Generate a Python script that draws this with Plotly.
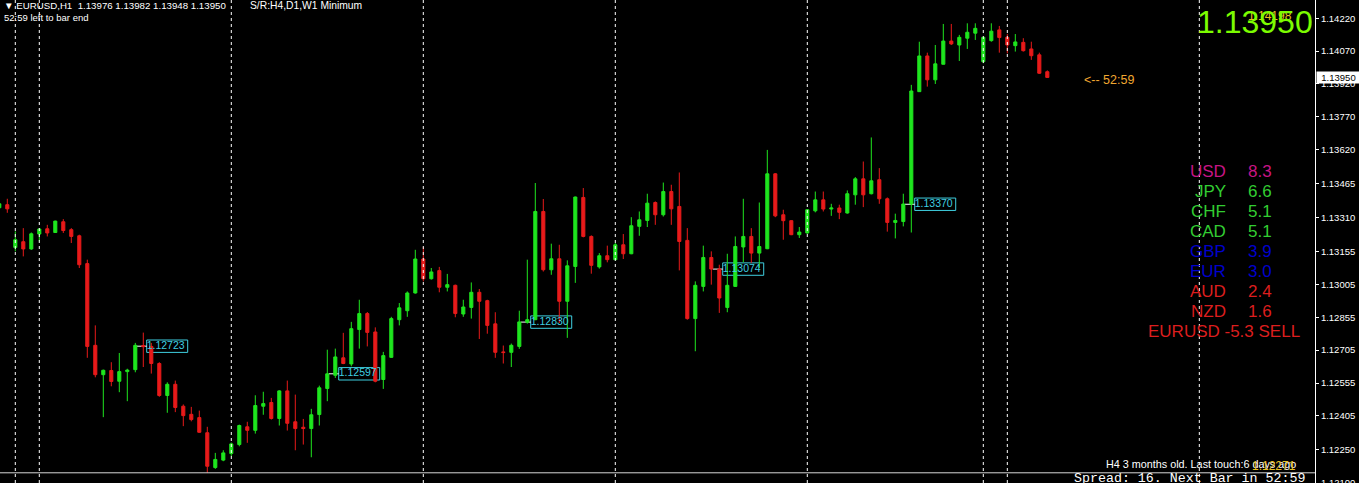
import plotly.graph_objects as go

# ---------------- data (EURUSD H1 candles) ----------------
open_ = [1.13355, 1.13369, 1.13174, 1.13200, 1.13167, 1.13235, 1.13259, 1.13242, 1.13291, 1.13255,
         1.13227, 1.13100, 1.12727, 1.12593, 1.12612, 1.12563, 1.12607, 1.12616, 1.12726, 1.12722,
         1.12644, 1.12498, 1.12549, 1.12449, 1.12412, 1.12397, 1.12328, 1.12169, 1.12203, 1.12233,
         1.12274, 1.12355, 1.12339, 1.12449, 1.12466, 1.12393, 1.12519, 1.12378, 1.12353, 1.12347,
         1.12411, 1.12530, 1.12590, 1.12670, 1.12642, 1.12799, 1.12872, 1.12788, 1.12571, 1.12672,
         1.12844, 1.12885, 1.12966, 1.13121, 1.13031, 1.13068, 1.12992, 1.13001, 1.12870, 1.12900,
         1.12969, 1.12931, 1.12825, 1.12697, 1.12695, 1.12722, 1.12832, 1.12844, 1.13338, 1.13072,
         1.13122, 1.12928, 1.13087, 1.13402, 1.13224, 1.13085, 1.13136, 1.13118, 1.13186, 1.13145,
         1.13270, 1.13297, 1.13379, 1.13323, 1.13429, 1.13361, 1.13206, 1.12849, 1.12996, 1.13128,
         1.13075, 1.12900, 1.12996, 1.13176, 1.13224, 1.13148, 1.13168, 1.13510, 1.13323, 1.13296,
         1.13232, 1.13240, 1.13341, 1.13391, 1.13349, 1.13354, 1.13331, 1.13414, 1.13487, 1.13419,
         1.13483, 1.13396, 1.13288, 1.13292, 1.13372, 1.13885, 1.14048, 1.13939, 1.14010, 1.14116,
         1.14098, 1.14129, 1.14152, 1.14022, 1.14118, 1.14167, 1.14133, 1.14095, 1.14110, 1.14080,
         1.14053, 1.13976]
high = [1.13378, 1.13396, 1.13247, 1.13262, 1.13242, 1.13262, 1.13277, 1.13296, 1.13303, 1.13262,
        1.13232, 1.13118, 1.12818, 1.12616, 1.12650, 1.12692, 1.12620, 1.12738, 1.12785, 1.12738,
        1.12650, 1.12558, 1.12566, 1.12457, 1.12446, 1.12429, 1.12355, 1.12236, 1.12248, 1.12283,
        1.12365, 1.12378, 1.12499, 1.12515, 1.12487, 1.12522, 1.12566, 1.12502, 1.12391, 1.12437,
        1.12543, 1.12707, 1.12712, 1.12784, 1.12834, 1.12935, 1.12879, 1.12809, 1.12697, 1.12857,
        1.12920, 1.12973, 1.13163, 1.13176, 1.13080, 1.13085, 1.13053, 1.13004, 1.12935, 1.13014,
        1.12984, 1.12935, 1.12878, 1.12726, 1.12735, 1.12885, 1.13118, 1.13468, 1.13395, 1.13191,
        1.13186, 1.13115, 1.13406, 1.13445, 1.13229, 1.13148, 1.13182, 1.13194, 1.13235, 1.13312,
        1.13338, 1.13419, 1.13384, 1.13470, 1.13460, 1.13516, 1.13262, 1.13019, 1.13182, 1.13156,
        1.13095, 1.13145, 1.13224, 1.13396, 1.13262, 1.13379, 1.13619, 1.13513, 1.13346, 1.13298,
        1.13267, 1.13349, 1.13429, 1.13429, 1.13373, 1.13369, 1.13434, 1.13495, 1.13566, 1.13676,
        1.13536, 1.13402, 1.13328, 1.13419, 1.13916, 1.14113, 1.14063, 1.14098, 1.14194, 1.14194,
        1.14144, 1.14197, 1.14197, 1.14136, 1.14197, 1.14185, 1.14148, 1.14148, 1.14129, 1.14113,
        1.14063, 1.13982]
low = [1.13350, 1.13332, 1.13156, 1.13133, 1.13163, 1.13201, 1.13224, 1.13242, 1.13240, 1.13194,
       1.13080, 1.12670, 1.12581, 1.12399, 1.12540, 1.12513, 1.12472, 1.12604, 1.12628, 1.12598,
       1.12492, 1.12419, 1.12422, 1.12358, 1.12380, 1.12328, 1.12145, 1.12163, 1.12198, 1.12221,
       1.12266, 1.12282, 1.12324, 1.12410, 1.12388, 1.12361, 1.12338, 1.12248, 1.12274, 1.12216,
       1.12361, 1.12472, 1.12578, 1.12641, 1.12631, 1.12712, 1.12722, 1.12558, 1.12528, 1.12670,
       1.12818, 1.12857, 1.12963, 1.13019, 1.13027, 1.12969, 1.12973, 1.12855, 1.12857, 1.12849,
       1.12756, 1.12780, 1.12670, 1.12644, 1.12628, 1.12711, 1.12826, 1.12842, 1.13064, 1.13049,
       1.12829, 1.12761, 1.13012, 1.13220, 1.13054, 1.13077, 1.13106, 1.13116, 1.13121, 1.13143,
       1.13227, 1.13267, 1.13277, 1.13315, 1.13277, 1.13069, 1.12844, 1.12700, 1.12973, 1.13004,
       1.12875, 1.12878, 1.12994, 1.13106, 1.13103, 1.13080, 1.13166, 1.13312, 1.13209, 1.13230,
       1.13217, 1.13237, 1.13334, 1.13338, 1.13318, 1.13303, 1.13328, 1.13369, 1.13358, 1.13416,
       1.13373, 1.13246, 1.13215, 1.13270, 1.13242, 1.13884, 1.13908, 1.13920, 1.14009, 1.14098,
       1.14025, 1.14080, 1.14121, 1.14015, 1.14113, 1.14063, 1.14060, 1.14068, 1.14068, 1.14030,
       1.13966, 1.13948]
close = [1.13373, 1.13350, 1.13209, 1.13167, 1.13236, 1.13258, 1.13240, 1.13294, 1.13251, 1.13224,
         1.13095, 1.12722, 1.12593, 1.12613, 1.12562, 1.12607, 1.12614, 1.12727, 1.12721, 1.12644,
         1.12498, 1.12549, 1.12443, 1.12406, 1.12388, 1.12330, 1.12175, 1.12206, 1.12236, 1.12277,
         1.12361, 1.12339, 1.12452, 1.12461, 1.12393, 1.12519, 1.12371, 1.12347, 1.12347, 1.12410,
         1.12533, 1.12597, 1.12674, 1.12644, 1.12803, 1.12872, 1.12786, 1.12563, 1.12680, 1.12849,
         1.12898, 1.12966, 1.13121, 1.13031, 1.13062, 1.12992, 1.13004, 1.12872, 1.12902, 1.12969,
         1.12928, 1.12818, 1.12695, 1.12694, 1.12727, 1.12834, 1.12844, 1.13338, 1.13072, 1.13122,
         1.12928, 1.13090, 1.13404, 1.13224, 1.13092, 1.13136, 1.13118, 1.13186, 1.13145, 1.13273,
         1.13300, 1.13376, 1.13323, 1.13429, 1.13350, 1.13201, 1.12849, 1.13001, 1.13128, 1.13075,
         1.12943, 1.13001, 1.13178, 1.13224, 1.13148, 1.13178, 1.13510, 1.13318, 1.13296, 1.13232,
         1.13244, 1.13346, 1.13391, 1.13349, 1.13354, 1.13334, 1.13419, 1.13487, 1.13414, 1.13478,
         1.13396, 1.13288, 1.13297, 1.13372, 1.13888, 1.14048, 1.13939, 1.14012, 1.14116, 1.14103,
         1.14133, 1.14156, 1.14174, 1.14133, 1.14161, 1.14132, 1.14098, 1.14112, 1.14072, 1.14049,
         1.13969, 1.13950]
bars = list(range(len(open_)))

# day separators (bar index) and price labels
sep_bars = [2, 5, 29, 53, 77, 101, 123, 126, 150]
label_text = ["1.12723", "1.12597", "1.12830", "1.13074", "1.13370"]
label_bar = [18, 42, 66, 90, 114]
label_price = [1.12723, 1.12597, 1.12833, 1.13075, 1.13371]

# price axis tick labels (the lowest one sits on the bottom edge)
tick_vals = [1.12250, 1.12405, 1.12555, 1.12705, 1.12855, 1.13005, 1.13155,
             1.13310, 1.13465, 1.13620, 1.13770, 1.13920, 1.14070, 1.14220]
edge_tick = 1.12100

# currency strength table
cur_names = ["USD", "JPY", "CHF", "CAD", "GBP", "EUR", "AUD", "NZD"]
cur_values = [8.3, 6.6, 5.1, 5.1, 3.9, 3.0, 2.4, 1.6]
pair_signal = "EURUSD -5.3 SELL"

symbol = "EURUSD,H1"
last_bar = dict(o=1.13976, h=1.13982, l=1.13948, c=1.13950)
timer = "52:59"
spread = 16
sr_level_low = "1.12271"
sr_level_high = "1.14198"

# ---------------- styles / layout ----------------
W, H = 1359, 483
PLOT_W = 1315
X_RANGE = [0.0875, 164.46]
Y_RANGE = [1.120985, 1.143034]
GREEN = "#1EE61E"
RED = "#E81A1A"
CYAN = "#3FCFE0"
FONT = "Liberation Sans"

cur_colors = ["#C71585", "#32CD32", "#32CD32", "#32CD32", "#0000CD", "#0000CD", "#DC1E1E", "#DC1E1E"]

def px(xp):
    return xp / PLOT_W

def py(yp):
    return 1 - yp / H

k = (Y_RANGE[1] - Y_RANGE[0]) / H      # price per pixel
bw = (X_RANGE[1] - X_RANGE[0]) / PLOT_W  # bars per pixel

fig = go.Figure()

shapes = []
for t, b, p in zip(label_text, label_bar, label_price):
    x0 = b + 3.4 * bw
    shapes.append(dict(type="rect", xref="x", yref="y", x0=x0, x1=x0 + 41 * bw,
                       y0=p - 6.2 * k, y1=p + 6.2 * k,
                       line=dict(color=CYAN, width=1), fillcolor="black", layer="below"))
    shapes.append(dict(type="line", xref="x", yref="y", x0=b - 0.8, x1=x0, y0=p, y1=p,
                       line=dict(color="white", width=1), layer="below"))

fig.add_trace(go.Scatter(
    x=[b + 3.4 * bw for b in label_bar], y=label_price, mode="text", text=label_text,
    textposition="middle right", textfont=dict(color=CYAN, size=10.5, family=FONT),
    hoverinfo="skip", showlegend=False))

fig.add_trace(go.Candlestick(
    x=bars, open=open_, high=high, low=low, close=close,
    increasing=dict(line=dict(color=GREEN, width=1), fillcolor=GREEN),
    decreasing=dict(line=dict(color=RED, width=1), fillcolor=RED),
    whiskerwidth=0, showlegend=False, hoverinfo="skip"))

for s in sep_bars:
    shapes.append(dict(type="line", xref="x", yref="paper", x0=s, x1=s, y0=0, y1=1,
                       line=dict(color="white", width=1, dash="3px,3px"), layer="above"))

shapes.append(dict(type="line", xref="paper", yref="y", x0=0, x1=1, y0=min(low), y1=min(low),
                   line=dict(color="#D8D8D8", width=1), layer="above"))

ann = []

def text(x, y, s, size, color="white", xanchor="left", family=FONT):
    ann.append(dict(xref="paper", yref="paper", x=px(x), y=py(y), text=s, showarrow=False,
                    xanchor=xanchor, yanchor="middle",
                    font=dict(size=size, color=color, family=family)))

header = ("▼ " + symbol + "&nbsp; " + " ".join(f"{v:.5f}" for v in
          [last_bar["o"], last_bar["h"], last_bar["l"], last_bar["c"]]))
text(2, 5.5, header, 9.7)
text(248, 5.5, "S/R:H4,D1,W1 Minimum", 10.3)
text(2, 18, f"{timer} left to bar end", 9.5)
text(1082, 80, f"&lt;-- {timer}", 12.5, color="#F0A830")
text(1246, 16, sr_level_high, 12, color="#E8C020")
text(1254.5, 22, f"{last_bar['c']:.5f}", 32, color="#7CFC00", xanchor="center")

for i, (n, v, c) in enumerate(zip(cur_names, cur_values, cur_colors)):
    yy = 171.5 + 20 * i
    text(1228, yy, n, 17, color=c, xanchor="right")
    text(1246, yy, f"{v:.1f}", 17, color=c)
text(1224, 331.5, pair_signal, 17, color="#DC1E1E", xanchor="center")

text(1298, 463.5, "H4 3 months old. Last touch:6 days ago", 10.8, xanchor="right")
text(1250, 466, sr_level_low, 12, color="#E8C020")
text(1072, 478, f"Spread: {spread}. Next Bar in {timer}", 13.3, family="Liberation Mono")

# lowest price-axis label, half cut by the bottom edge as in the terminal
ann.append(dict(xref="paper", yref="y", x=1, y=edge_tick, text=f"{edge_tick:.5f}",
                showarrow=False, xanchor="left", yanchor="middle", xshift=4,
                font=dict(size=9.5, color="white", family=FONT)))

ann.append(dict(xref="paper", yref="y", x=1, y=last_bar["c"], text=f"{last_bar['c']:.5f}",
                showarrow=False, xanchor="left", yanchor="middle", xshift=1,
                bgcolor="white", width=43, height=11, borderpad=0,
                font=dict(size=9.5, color="black", family=FONT)))

fig.update_layout(
    width=W, height=H, margin=dict(l=0, r=W - PLOT_W, t=0, b=0),
    paper_bgcolor="black", plot_bgcolor="black",
    shapes=shapes, annotations=ann, boxgap=0.45, showlegend=False,
    xaxis=dict(range=X_RANGE, visible=False, rangeslider=dict(visible=False), fixedrange=True),
    yaxis=dict(range=Y_RANGE, side="right", tickvals=tick_vals,
               ticktext=[f"{v:.5f}" for v in tick_vals], ticks="outside", ticklen=3,
               tickcolor="white", showline=True, linecolor="white", linewidth=1,
               showgrid=False, zeroline=False,
               tickfont=dict(size=9.5, color="white", family=FONT), fixedrange=True),
)

fig.write_html("out.html", config={"displayModeBar": False},
               post_script="document.body.style.margin='0';document.body.style.background='black';")
